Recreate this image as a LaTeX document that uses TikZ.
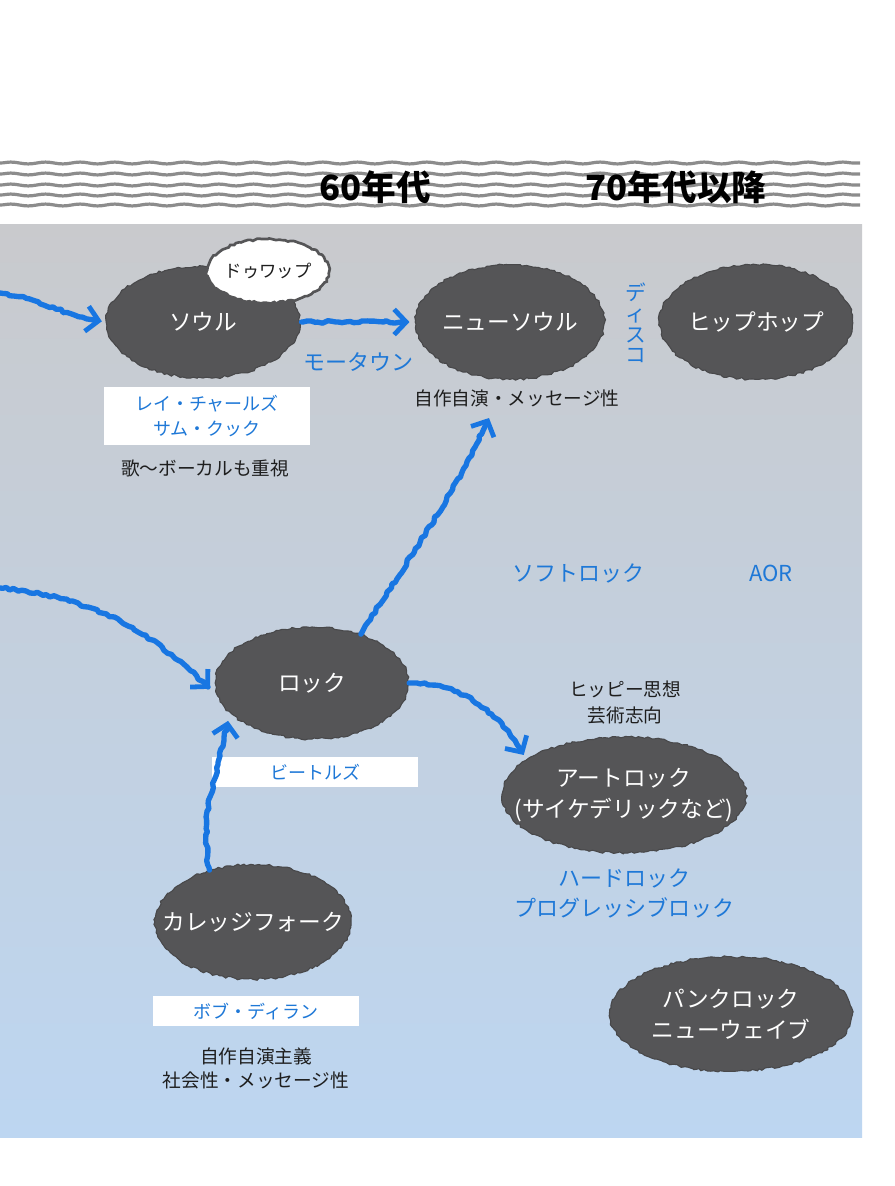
\documentclass[tikz,border=0pt]{standalone}
\usepackage{fontspec}
\setmainfont{Noto Sans CJK JP}
\usetikzlibrary{shapes.geometric,decorations.pathmorphing,arrows.meta}
\definecolor{nodegray}{RGB}{85,85,87}
\definecolor{flowblue}{RGB}{24,118,226}
\definecolor{lblblue}{RGB}{30,120,215}
\definecolor{panetop}{RGB}{201,202,205}
\definecolor{panebot}{RGB}{189,214,241}
\definecolor{wavegray}{RGB}{140,140,140}
\definecolor{notetext}{RGB}{30,30,30}
\begin{document}
\begin{tikzpicture}[x=0.75pt,y=-0.75pt,
  blob/.style={ellipse, fill=nodegray, draw=nodegray!85!black, line width=0.8pt,
    decorate, decoration={random steps,segment length=2.4pt,amplitude=0.9pt},
    text=white, font=\fontsize{17}{23}\selectfont, inner ysep=0pt, inner xsep=-18pt,
    align=center, minimum width=145pt, minimum height=84pt},
  bubble/.style={ellipse, fill=white, draw=nodegray, line width=2pt,
    decorate, decoration={random steps,segment length=2.2pt,amplitude=0.7pt},
    text=notetext, font=\fontsize{13}{16}\selectfont, inner sep=0pt,
    minimum width=85pt, minimum height=48pt},
  flow/.style={draw=flowblue, line width=4pt, line cap=round, line join=round,
    decorate, decoration={random steps, segment length=3pt, amplitude=1pt,
    pre length=2pt, post length=10pt},
    -{Straight Barb[length=9pt,width=19pt,line width=3.6pt]}},
  wbox/.style={fill=white, text=lblblue, font=\fontsize{13.5}{19}\selectfont,
    minimum width=155pt, inner sep=2pt, align=center},
  bluelbl/.style={text=lblblue, font=\fontsize{16.5}{22.5}\selectfont, align=center},
  note/.style={text=notetext, font=\fontsize{14}{18}\selectfont, align=center},
  era/.style={text=black, font=\bfseries\fontsize{26}{30}\selectfont},
  wave/.style={draw=wavegray, line width=2.4pt, decorate,
    decoration={snake, segment length=26pt, amplitude=0.7pt}}
]
\useasboundingbox (0,0) rectangle (894,1186);
\fill[white] (0,0) rectangle (894,1186);
% header band
\foreach \yy in {163,174,185,195,205} {
  \draw[wave] (0,\yy) -- (860,\yy);
}
\node[era] (e60) at (375,187) {60年代};
\node[era] (e70) at (676,187) {70年代以降};
% panel
\shade[top color=panetop, bottom color=panebot] (0,224) rectangle (862,1137);

% nodes
\node[blob] (soul) at (203,322) {ソウル};
\node[bubble] (doowop) at (268,271) {ドゥワップ};
\node[blob, minimum width=142pt, minimum height=86pt] (newsoul) at (510,322) {ニューソウル};
\node[blob, minimum height=86pt] (hiphop) at (756,322) {ヒップホップ};
\node[bluelbl, font=\fontsize{15.5}{15.5}\selectfont] (disco) at (636,323) {デ\\ィ\\ス\\コ};
\node[bluelbl] (motown) at (358,362) {モータウン};
\node[wbox, minimum height=44pt] (ray) at (207,416) {レイ・チャールズ\\サム・クック};
\node[note] (soulnote) at (205,468) {歌〜ボーカルも重視};
\node[note] (nsnote) at (517,398) {自作自演・メッセージ性};
\node[bluelbl] (soft) at (578,573) {ソフトロック};
\node[bluelbl] (aor) at (771,573) {AOR};
\node[blob] (rock) at (312,683) {ロック};
\node[wbox, minimum height=22pt] (beatles) at (315,772) {ビートルズ};
\node[note, font=\fontsize{14}{19.5}\selectfont] (hippie) at (625,703) {ヒッピー思想\\芸術志向};
\node[blob, minimum width=183pt, minimum height=87pt] (art) at (624,795) {アートロック\\(サイケデリックなど)};
\node[bluelbl] (hard) at (624,893) {ハードロック\\プログレッシブロック};
\node[blob, minimum width=147pt, minimum height=86pt] (folk) at (253,922) {カレッジフォーク};
\node[wbox, minimum height=22pt] (dylan) at (256,1011) {ボブ・ディラン};
\node[note] (folknote) at (256,1068) {自作自演主義\\社会性・メッセージ性};
\node[blob, minimum width=182pt, minimum height=86pt] (punk) at (731,1014) {パンクロック\\ニューウェイブ};

% free ends
\coordinate (in1) at (0,293);
\coordinate (in2) at (0,588);
\coordinate (nstip) at (489,418);

% connectors
\draw[flow, shorten >=3pt] (in1) to[out=-8,in=172] (soul.west);
\draw[flow, shorten <=1pt, shorten >=4pt] (soul.east) -- (newsoul.west);
\draw[flow] (rock.45) to[out=58,in=-115] (nstip);
\draw[flow, shorten >=8pt] (in2) to[out=-6,in=135] (rock.188);
\draw[flow, shorten >=6pt] (folk.130) to[out=100,in=-100] (rock.200);
\draw[flow, shorten >=4pt] (rock.east) to[out=0,in=120] (art.160);
\end{tikzpicture}
\end{document}
